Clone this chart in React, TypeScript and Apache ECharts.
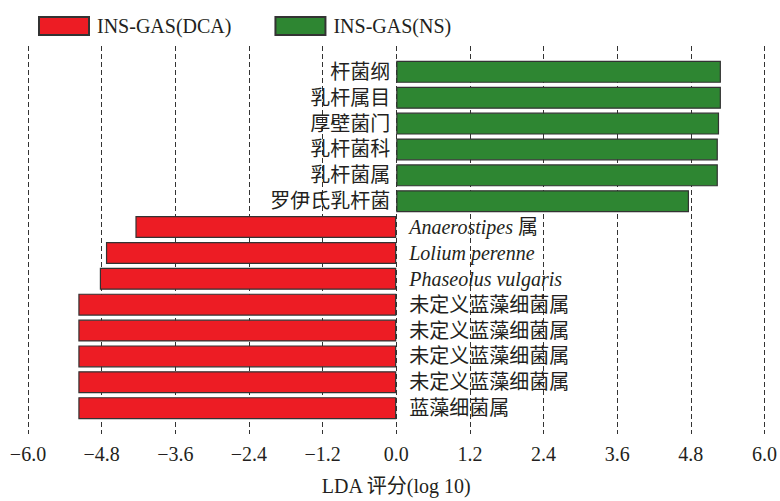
import React, { useEffect, useRef } from "react";
import * as echarts from "echarts";

const categories = [
  "杆菌纲",
  "乳杆属目",
  "厚壁菌门",
  "乳杆菌科",
  "乳杆菌属",
  "罗伊氏乳杆菌",
  "Anaerostipes 属",
  "Lolium perenne",
  "Phaseolus vulgaris",
  "未定义蓝藻细菌属",
  "未定义蓝藻细菌属",
  "未定义蓝藻细菌属",
  "未定义蓝藻细菌属",
  "蓝藻细菌属",
];
const nsValues = [5.29, 5.29, 5.26, 5.24, 5.24, 4.77];
const dcaValues = [-4.25, -4.73, -4.83, -5.18, -5.18, -5.18, -5.18, -5.18];
const seriesNames = ["INS-GAS(DCA)", "INS-GAS(NS)"];
const axisName = "LDA 评分(log 10)";
const xMin = -6;
const xMax = 6;
const xInterval = 1.2;

const FONT = "'Liberation Serif', 'Times New Roman', 'Noto Sans CJK SC', serif";
const TEXT = "#231f20";

function fmtLabel(s: string) {
  return s.replace(/[A-Za-z]+(?: [A-Za-z]+)*/g, (m) => `{i|${m}}`);
}

export default function App() {
  const ref = useRef<HTMLDivElement>(null);
  useEffect(() => {
    if (!ref.current) return;
    const chart = echarts.init(ref.current, undefined, { renderer: "svg" });
    const nNS = nsValues.length;
    const axisData = ["pad0", ...categories.map((_, i) => "c" + i), "pad1"];
    const nsData: (number | null)[] = [null, ...nsValues, ...dcaValues.map(() => null), null];
    const dcaData: (number | null)[] = [null, ...nsValues.map(() => null), ...dcaValues, null];
    const labelData: any[] = [
      null,
      ...categories.map((c, i) => ({
        value: 0,
        label: {
          show: true,
          position: i < nNS ? "left" : "right",
          distance: i < nNS ? 6 : 13,
          formatter: fmtLabel(c),
        },
      })),
      null,
    ];
    const barStyle = (color: string) => ({
      color,
      borderColor: "#333",
      borderWidth: 1.2,
    });
    chart.setOption({
      animation: false,
      textStyle: { fontFamily: FONT },
      legend: {
        data: seriesNames,
        left: 38,
        top: 16,
        padding: 0,
        itemWidth: 50,
        itemHeight: 18,
        itemGap: 43,
        icon: "rect",
        textStyle: { fontSize: 20, fontFamily: FONT, color: TEXT, padding: [0, 0, 0, 3] },
      },
      grid: { left: 28, right: 12, top: 46, bottom: 61, containLabel: false },
      xAxis: {
        type: "value",
        min: xMin,
        max: xMax,
        interval: xInterval,
        name: axisName,
        nameLocation: "middle",
        nameGap: 42,
        nameTextStyle: { fontSize: 20, fontFamily: FONT, color: TEXT },
        axisLine: { show: false },
        axisTick: { show: false },
        axisLabel: {
          fontSize: 20,
          fontFamily: FONT,
          color: TEXT,
          margin: 10,
          formatter: (v: number) => v.toFixed(1).replace("-", "\u2212"),
        },
        splitLine: {
          show: true,
          lineStyle: { type: [5, 3], color: "#333", width: 1 },
        },
      },
      yAxis: {
        type: "category",
        data: axisData,
        inverse: true,
        boundaryGap: false,
        axisLine: { show: false },
        axisTick: { show: false },
        axisLabel: { show: false },
        splitLine: { show: false },
      },
      series: [
        {
          name: seriesNames[0],
          type: "bar",
          data: dcaData,
          barWidth: 22,
          barGap: "-100%",
          itemStyle: barStyle("#ed1c24"),
        },
        {
          name: seriesNames[1],
          type: "bar",
          data: nsData,
          barWidth: 22,
          barGap: "-100%",
          itemStyle: barStyle("#2e8632"),
        },
        {
          name: "labels",
          type: "bar",
          data: labelData,
          barWidth: 22,
          barGap: "-100%",
          silent: true,
          itemStyle: { color: "transparent", borderWidth: 0 },
          label: {
            show: true,
            fontSize: 20,
            fontFamily: FONT,
            color: TEXT,
            rich: {
              i: { fontSize: 20, fontFamily: FONT, fontStyle: "italic", color: TEXT },
            },
          },
          z: 5,
        },
      ],
    });
    return () => chart.dispose();
  }, []);
  return (
    <div
      ref={ref}
      style={{ position: "absolute", left: 0, top: 0, width: 780, height: 501, background: "#fff" }}
    />
  );
}
